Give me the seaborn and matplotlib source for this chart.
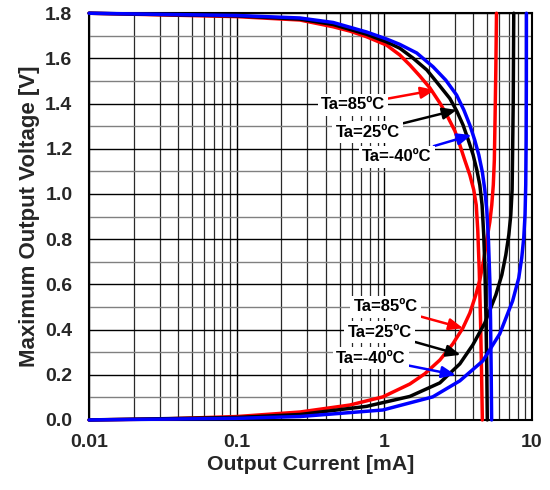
import numpy as np
import pandas as pd
import matplotlib
matplotlib.use("Agg")
import matplotlib.pyplot as plt
import seaborn as sns
from matplotlib.ticker import FixedLocator, LogLocator, NullFormatter

# Temperature series
temps = ["Ta=85ºC", "Ta=25ºC", "Ta=-40ºC"]
colors = ["#ff0000", "#000000", "#0000ff"]

# High-side branch: output voltage falls from 1.8 V as load current rises (mA, V)
hi_i_85 = [0.01, 0.1, 0.268, 0.451, 0.585, 0.758, 1.036, 1.275, 1.49, 1.742, 2.04, 2.38, 2.65,
           3.01, 3.25, 3.51, 3.80, 4.04, 4.20, 4.30, 4.40, 4.49, 4.56, 4.62]
hi_v_85 = [1.800, 1.785, 1.770, 1.740, 1.721, 1.696, 1.659, 1.615, 1.571, 1.522, 1.469, 1.403, 1.350,
           1.279, 1.217, 1.150, 1.084, 1.018, 0.951, 0.841, 0.664, 0.442, 0.221, 0.000]

hi_i_25 = [0.01, 0.1, 0.268, 0.451, 0.758, 1.036, 1.275, 1.562, 1.943, 2.38, 2.78, 3.10, 3.42,
           3.71, 4.00, 4.24, 4.44, 4.60, 4.72, 4.81, 4.89, 4.95, 4.99]
hi_v_25 = [1.800, 1.788, 1.774, 1.750, 1.707, 1.673, 1.645, 1.602, 1.549, 1.478, 1.423, 1.367, 1.305,
           1.239, 1.173, 1.106, 1.040, 0.951, 0.819, 0.664, 0.442, 0.221, 0.000]

hi_i_m40 = [0.01, 0.1, 0.268, 0.451, 0.758, 1.036, 1.275, 1.66, 2.14, 2.61, 3.09, 3.46, 3.80,
            4.10, 4.37, 4.62, 4.80, 4.95, 5.08, 5.19, 5.25, 5.30, 5.34]
hi_v_m40 = [1.800, 1.790, 1.779, 1.759, 1.717, 1.686, 1.662, 1.624, 1.563, 1.504, 1.438, 1.372, 1.305,
            1.239, 1.173, 1.097, 1.018, 0.929, 0.796, 0.619, 0.442, 0.221, 0.000]

# Low-side branch: output voltage rises from 0 V as sink current rises (mA, V)
lo_i_85 = [0.01, 0.0302, 0.1, 0.268, 0.585, 0.978, 1.49, 1.88, 2.38, 2.91, 3.41, 3.80, 4.17,
           4.44, 4.72, 4.95, 5.19, 5.35, 5.48, 5.57, 5.63, 5.70, 5.76]
lo_v_85 = [0.000, 0.004, 0.015, 0.035, 0.066, 0.102, 0.159, 0.204, 0.265, 0.336, 0.407, 0.473, 0.553,
           0.619, 0.708, 0.796, 0.876, 0.951, 1.040, 1.150, 1.327, 1.549, 1.800]

lo_i_25 = [0.01, 0.1, 0.268, 0.758, 1.49, 2.38, 3.25, 3.98, 4.80, 5.70, 6.26, 6.66, 6.98,
           7.20, 7.35, 7.41, 7.48, 7.54]
lo_v_25 = [0.000, 0.011, 0.024, 0.060, 0.104, 0.164, 0.248, 0.332, 0.429, 0.553, 0.642, 0.730, 0.819,
           0.907, 1.018, 1.195, 1.416, 1.800]

lo_i_m40 = [0.01, 0.1, 0.268, 0.978, 2.13, 3.25, 4.65, 6.06, 7.41, 8.15, 8.54, 8.81, 8.99,
            9.09, 9.15, 9.18, 9.19]
lo_v_m40 = [0.000, 0.007, 0.015, 0.044, 0.102, 0.173, 0.261, 0.381, 0.527, 0.628, 0.717, 0.805, 0.907,
            1.040, 1.239, 1.504, 1.800]

curves = [
    ("hi", temps[0], hi_i_85, hi_v_85),
    ("hi", temps[1], hi_i_25, hi_v_25),
    ("hi", temps[2], hi_i_m40, hi_v_m40),
    ("lo", temps[0], lo_i_85, lo_v_85),
    ("lo", temps[1], lo_i_25, lo_v_25),
    ("lo", temps[2], lo_i_m40, lo_v_m40),
]
frames = [pd.DataFrame({"current": i, "voltage": v, "temp": t, "branch": f"{b}_{t}"})
          for b, t, i, v in curves]
df = pd.concat(frames, ignore_index=True)

sns.set_theme(style="white")
plt.rcParams["font.family"] = ["Liberation Sans", "DejaVu Sans"]
plt.rcParams["font.weight"] = "bold"

fig = plt.figure(figsize=(5.5, 4.9), dpi=100)
ax = fig.add_axes([0.162, 0.143, 0.805, 0.830])

sns.lineplot(data=df, x="current", y="voltage", hue="temp", hue_order=temps,
             palette=colors, units="branch", estimator=None, sort=False,
             linewidth=2.5, legend=False, ax=ax, zorder=3)
for ln in ax.lines:
    ln.set_clip_on(False)
    ln.set_solid_joinstyle("round")

ax.set_xscale("log")
ax.set_xlim(0.01, 10)
ax.set_ylim(0, 1.8)
ax.xaxis.set_major_locator(FixedLocator([0.01, 0.1, 1, 10]))
ax.xaxis.set_minor_locator(LogLocator(base=10, subs=np.arange(2, 10)))
ax.xaxis.set_minor_formatter(NullFormatter())
ax.set_xticklabels(["0.01", "0.1", "1", "10"])
ax.set_yticks(np.arange(0, 1.81, 0.2))
ax.set_yticks(np.arange(0.1, 1.8, 0.2), minor=True)
ax.set_yticklabels([f"{v:.1f}" for v in np.arange(0, 1.81, 0.2)])

ax.tick_params(which="both", length=0)
ax.tick_params(axis="x", which="major", pad=10, labelsize=14)
ax.tick_params(axis="y", which="major", pad=12, labelsize=14)
for lbl in ax.get_xticklabels() + ax.get_yticklabels():
    lbl.set_fontweight("bold")

ax.set_axisbelow(True)
ax.grid(which="major", axis="both", color="black", linewidth=1.0)
ax.grid(which="minor", axis="x", color="#2a2a2a", linewidth=0.9)
ax.grid(which="minor", axis="y", color="#808080", linewidth=1.0)
for sp in ax.spines.values():
    sp.set_color("black")
    sp.set_linewidth(1.5)

ax.set_xlabel("Output Current [mA]", fontsize=15.3, fontweight="bold", labelpad=3)
ax.set_ylabel("Maximum Output Voltage [V]", fontsize=16, fontweight="bold", labelpad=4)

# Callouts for each temperature on both branches
text_hi = [(0.613, 1.394), (0.774, 1.274), (1.22, 1.164)]
head_hi = [(2.20, 1.46), (3.10, 1.372), (3.90, 1.261)]
text_lo = [(1.025, 0.500), (0.934, 0.389), (0.811, 0.274)]
head_lo = [(3.42, 0.406), (3.29, 0.288), (3.05, 0.199)]
for texts, heads in ((text_hi, head_hi), (text_lo, head_lo)):
    for t, c, tp, hp in zip(temps, colors, texts, heads):
        ax.annotate(t, xy=hp, xytext=tp, ha="center", va="center",
                    fontsize=12, fontweight="bold", color="black", zorder=5,
                    bbox=dict(boxstyle="square,pad=0.2", fc="white", ec="none"),
                    arrowprops=dict(arrowstyle="-|>,head_length=0.6,head_width=0.25",
                                    color=c, lw=1.8, mutation_scale=14,
                                    shrinkA=0, shrinkB=0))

fig.savefig("out.png", dpi=100)
